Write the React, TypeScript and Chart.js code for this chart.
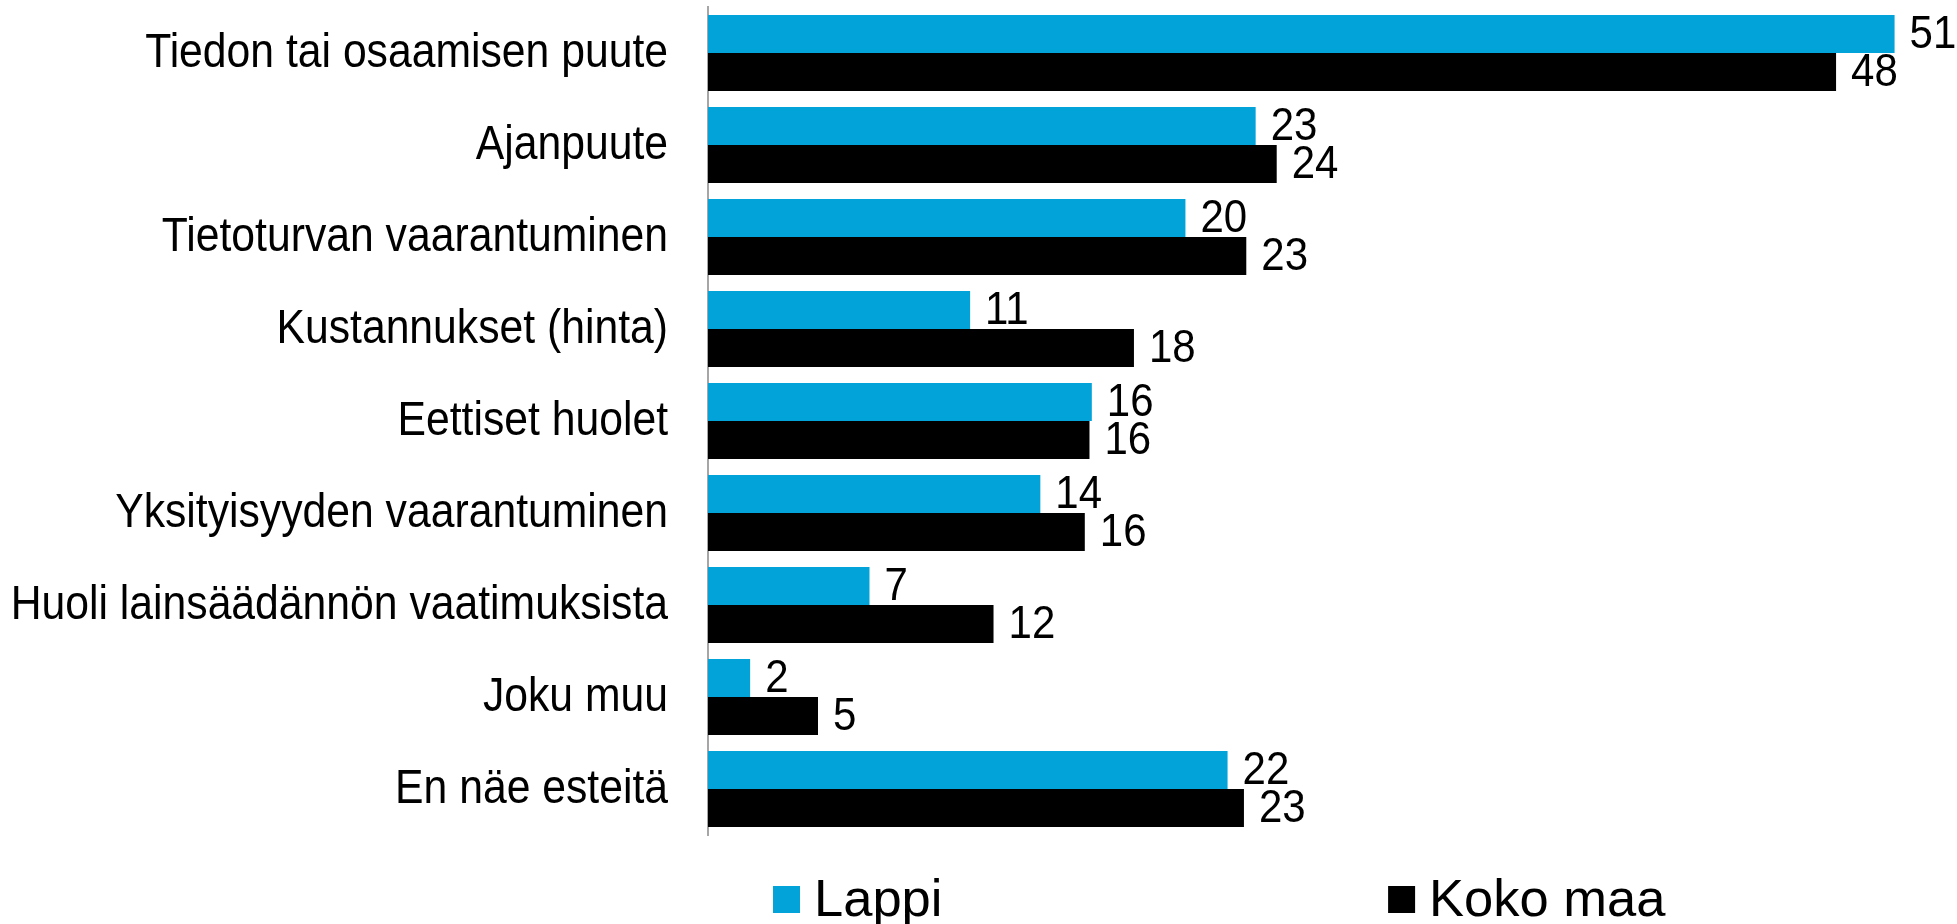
import React, { useEffect, useRef } from "react";
import { Chart, registerables } from "chart.js";

Chart.register(...registerables);

const categories = [
  "Tiedon tai osaamisen puute",
  "Ajanpuute",
  "Tietoturvan vaarantuminen",
  "Kustannukset (hinta)",
  "Eettiset huolet",
  "Yksityisyyden vaarantuminen",
  "Huoli lainsäädännön vaatimuksista",
  "Joku muu",
  "En näe esteitä",
];

const lappiValues = [50.7, 23.4, 20.4, 11.2, 16.4, 14.2, 6.9, 1.8, 22.2];
const kokoMaaValues = [48.2, 24.3, 23.0, 18.2, 16.3, 16.1, 12.2, 4.7, 22.9];

const seriesNames = ["Lappi", "Koko maa"];
const seriesColors = ["#02A3D9", "#000000"];

const FONT = "'Liberation Sans', Arial, sans-serif";
const STRETCH = 1.12;

function drawStretched(ctx: any, text: string, x: number, y: number) {
  ctx.save();
  ctx.translate(x, y);
  ctx.scale(1, STRETCH);
  ctx.fillText(text, 0, 0);
  ctx.restore();
}

const categoryLabelsPlugin = {
  id: "categoryLabels",
  afterDraw(chart: any) {
    const ctx = chart.ctx;
    const yScale = chart.scales.y;
    const left = chart.chartArea.left;
    ctx.save();
    ctx.font = `42.7px ${FONT}`;
    ctx.fillStyle = "#000";
    ctx.textAlign = "right";
    ctx.textBaseline = "middle";
    chart.data.labels.forEach((lab: string, i: number) => {
      drawStretched(ctx, lab, left - 40, yScale.getPixelForValue(i) + 1);
    });
    ctx.restore();
  },
};

const valueLabelsPlugin = {
  id: "valueLabels",
  afterDatasetsDraw(chart: any) {
    const ctx = chart.ctx;
    ctx.save();
    ctx.font = `42px ${FONT}`;
    ctx.fillStyle = "#000";
    ctx.textAlign = "left";
    ctx.textBaseline = "middle";
    chart.data.datasets.forEach((ds: any, di: number) => {
      const meta = chart.getDatasetMeta(di);
      meta.data.forEach((el: any, i: number) => {
        const v = ds.data[i];
        drawStretched(ctx, String(Math.round(v)), el.x + 15, el.y + 1);
      });
    });
    ctx.restore();
  },
};

const customLegendPlugin = {
  id: "customLegend",
  afterDraw(chart: any) {
    const ctx = chart.ctx;
    const w = chart.width;
    const itemX = [w * 0.395, w * 0.7093];
    const boxY = 886;
    const box = 27;
    ctx.save();
    ctx.font = `52.5px ${FONT}`;
    ctx.textAlign = "left";
    ctx.textBaseline = "middle";
    seriesNames.forEach((name, i) => {
      ctx.fillStyle = seriesColors[i];
      ctx.fillRect(itemX[i], boxY, box, box);
      ctx.fillStyle = "#000";
      ctx.fillText(name, itemX[i] + box + 14, boxY + box / 2 + 2);
    });
    ctx.restore();
  },
};

export default function App() {
  const canvasRef = useRef<HTMLCanvasElement | null>(null);

  useEffect(() => {
    if (!canvasRef.current) return;
    const chart = new Chart(canvasRef.current, {
      type: "bar",
      data: {
        labels: categories,
        datasets: [
          {
            label: seriesNames[0],
            data: lappiValues,
            backgroundColor: seriesColors[0],
            barPercentage: 1,
            categoryPercentage: 0.826,
          },
          {
            label: seriesNames[1],
            data: kokoMaaValues,
            backgroundColor: seriesColors[1],
            barPercentage: 1,
            categoryPercentage: 0.826,
          },
        ],
      },
      options: {
        indexAxis: "y",
        animation: false,
        responsive: true,
        maintainAspectRatio: false,
        layout: {
          padding: { left: 0, right: 32, top: 7, bottom: 89 },
        },
        plugins: {
          legend: { display: false },
          tooltip: { enabled: false },
        },
        scales: {
          x: {
            display: false,
            min: 0,
            max: 52,
          },
          y: {
            grid: { display: false, drawTicks: false },
            border: { display: true, color: "#a6a6a6", width: 2 },
            ticks: { display: false },
            afterFit(scale: any) {
              scale.width = 708;
              scale.paddingTop = 0;
              scale.paddingBottom = 0;
            },
          },
        },
      },
      plugins: [valueLabelsPlugin, categoryLabelsPlugin, customLegendPlugin],
    });
    return () => chart.destroy();
  }, []);

  return (
    <div
      style={{
        position: "fixed",
        left: 0,
        top: 0,
        width: "1957px",
        height: "924px",
        background: "#fff",
      }}
    >
      <canvas ref={canvasRef} />
    </div>
  );
}
